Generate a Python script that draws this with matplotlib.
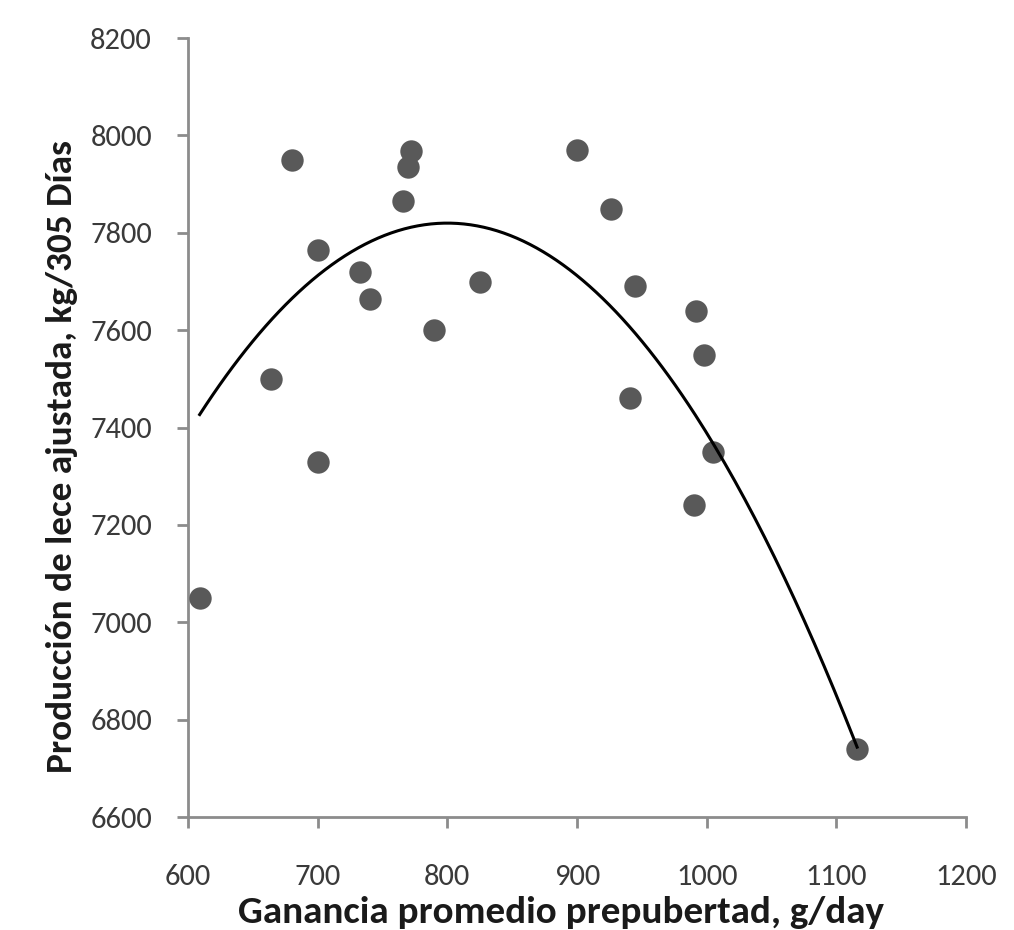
import numpy as np
import matplotlib
matplotlib.use("Agg")
import matplotlib.pyplot as plt

gain = [609, 664, 680, 700, 700, 733, 740, 766, 770, 772, 790, 825,
        900, 926, 945, 941, 992, 998, 990, 1005, 1116]
milk = [7050, 7500, 7950, 7765, 7330, 7720, 7665, 7865, 7935, 7968, 7600, 7700,
        7970, 7850, 7690, 7460, 7640, 7550, 7240, 7350, 6740]
# quadratic trendline coefficients (a, b, c)
trend_coef = [-0.01078, 17.248, 920.8]
xticks = [600, 700, 800, 900, 1000, 1100, 1200]
yticks = [6600, 6800, 7000, 7200, 7400, 7600, 7800, 8000, 8200]

FAM = ["Carlito", "Lato", "DejaVu Sans"]

fig = plt.figure(figsize=(10.14, 9.30), dpi=100)
ax = fig.add_axes([0.1854, 0.1215, 0.7673, 0.8375])

ax.scatter(gain, milk, s=260, color="#595959", zorder=3, linewidths=0)

xs = np.linspace(min(gain), max(gain), 200)
ax.plot(xs, np.polyval(trend_coef, xs), color="black", lw=2.2, zorder=4)

ax.set_xlim(600, 1200)
ax.set_ylim(6600, 8200)
ax.set_xticks(xticks)
ax.set_yticks(yticks)
for s in ["top", "right"]:
    ax.spines[s].set_visible(False)
for s in ["left", "bottom"]:
    ax.spines[s].set_color("#8c8c8c")
    ax.spines[s].set_linewidth(2)
ax.tick_params(axis="both", direction="out", length=8, width=2, color="#8c8c8c",
               labelsize=22, labelcolor="#3a3a3a")
ax.tick_params(axis="y", pad=18)
ax.tick_params(axis="x", pad=26)
for lab in ax.get_xticklabels() + ax.get_yticklabels():
    lab.set_family(FAM)
    lab.set_fontweight("light")

ax.set_xlabel("Ganancia promedio prepubertad, g/day", family=FAM, fontweight="bold",
              fontsize=28.2, color="#1a1a1a", va="center", ha="center")
ax.set_ylabel("Producción de lece ajustada, kg/305 Días", family=FAM, fontweight="bold",
              fontsize=26.8, color="#1a1a1a", va="center", ha="center")
ax.xaxis.set_label_coords(0.479, -0.122)
ax.yaxis.set_label_coords(-0.162, 0.463)

fig.savefig("out.png", dpi=100, facecolor="white")
